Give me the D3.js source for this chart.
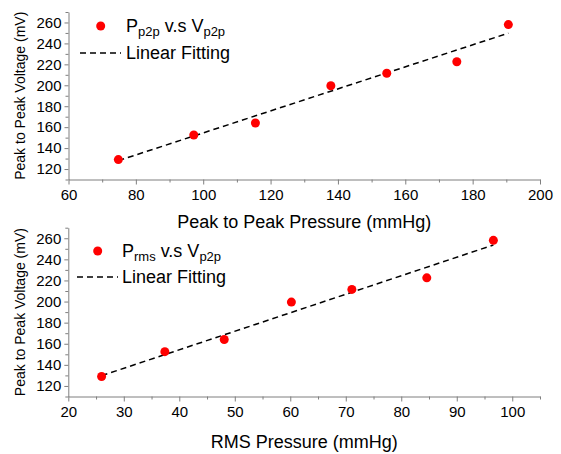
<!DOCTYPE html>
<html>
<head>
<meta charset="utf-8">
<script src="https://cdn.jsdelivr.net/npm/d3@7"></script>
<style>
  body { margin: 0; background: #fff; }
  svg { display: block; font-family: "Liberation Sans", Arial, sans-serif; }
  .axis path, .axis line { stroke: #7f7f7f; }
  .axis text { fill: #000; font-size: 15px; }
</style>
</head>
<body>
<div id="chart"></div>
<script>
// voltages (same for both panels)
const voltage = [129, 152.5, 164, 199.5, 211.5, 222.5, 258];
const p2pPressure = [74.8, 97.2, 115.5, 137.9, 154.5, 175.3, 190.6];
const rmsPressure = [26.0, 37.4, 48.1, 60.2, 71.1, 84.6, 96.6];
// linear fitting end points as drawn
const p2pFit = [[74.8, 128], [190.6, 249.8]];
const rmsFit = [[26.0, 129.7], [96.6, 253.6]];

const yTicks = [120, 140, 160, 180, 200, 220, 240, 260];
const yMinor = [110, 130, 150, 170, 190, 210, 230, 250, 270];
const p2pTicks = [60, 80, 100, 120, 140, 160, 180, 200];
const p2pMinor = [70, 90, 110, 130, 150, 170, 190];
const rmsTicks = [20, 30, 40, 50, 60, 70, 80, 90, 100];
const rmsMinor = [25, 35, 45, 55, 65, 75, 85, 95, 105];

const W = 561, H = 454;
const svg = d3.select("#chart").append("svg")
    .attr("width", W).attr("height", H);

const panels = [
    {
        xs: p2pPressure, fit: p2pFit,
        xDomain: [60, 200], xRange: [68.5, 540],
        yRange: [179.5, 12],
        xTicks: p2pTicks, xMinor: p2pMinor,
        xTitle: "Peak to Peak Pressure (mmHg)", xTitleY: 228,
        legendSub: "p2p", legendMarker: [100.7, 26], legendText: 126, fitLine: [80, 121], row2: 53
    },
    {
        xs: rmsPressure, fit: rmsFit,
        xDomain: [20, 105], xRange: [68.3, 540],
        yRange: [396.5, 227.7],
        xTicks: rmsTicks, xMinor: rmsMinor,
        xTitle: "RMS Pressure (mmHg)", xTitleY: 448,
        legendSub: "rms", legendMarker: [97.7, 251], legendText: 122, fitLine: [77, 118], row2: 277
    }
];

panels.forEach(p => {
    const x = d3.scaleLinear().domain(p.xDomain).range(p.xRange);
    const y = d3.scaleLinear().domain([110, 270]).range(p.yRange);
    const g = svg.append("g");

    // minor ticks first, then main axes
    g.append("g").attr("class", "axis")
        .attr("transform", `translate(0,${p.yRange[0]})`)
        .call(d3.axisBottom(x).tickValues(p.xMinor).tickSize(3).tickFormat(""))
        .select(".domain").remove();
    g.append("g").attr("class", "axis")
        .attr("transform", `translate(${p.xRange[0]},0)`)
        .call(d3.axisLeft(y).tickValues(yMinor).tickSize(3).tickFormat(""))
        .select(".domain").remove();

    g.append("g").attr("class", "axis")
        .attr("transform", `translate(0,${p.yRange[0]})`)
        .call(d3.axisBottom(x).tickValues(p.xTicks).tickSize(5).tickSizeOuter(0).tickPadding(5));
    g.append("g").attr("class", "axis")
        .attr("transform", `translate(${p.xRange[0]},0)`)
        .call(d3.axisLeft(y).tickValues(yTicks).tickSize(4).tickSizeOuter(0).tickPadding(3));

    // axis titles
    g.append("text")
        .attr("x", (p.xRange[0] + p.xRange[1]) / 2)
        .attr("y", p.xTitleY)
        .attr("text-anchor", "middle")
        .style("font-size", "18px")
        .text(p.xTitle);
    g.append("text")
        .attr("transform", `translate(25,${(p.yRange[0] + p.yRange[1]) / 2}) rotate(-90)`)
        .attr("text-anchor", "middle")
        .style("font-size", "14px")
        .text("Peak to Peak Voltage (mV)");

    // fitting line
    g.append("path")
        .datum(p.fit)
        .attr("d", d3.line().x(d => x(d[0])).y(d => y(d[1])))
        .attr("fill", "none")
        .attr("stroke", "#000")
        .attr("stroke-width", 1.5)
        .attr("stroke-dasharray", "6,4");

    // points
    g.append("g").selectAll("circle")
        .data(p.xs.map((v, i) => [v, voltage[i]]))
        .enter().append("circle")
        .attr("cx", d => x(d[0]))
        .attr("cy", d => y(d[1]))
        .attr("r", 4.5)
        .attr("fill", "#ff0000");

    // legend
    const [mx, my] = p.legendMarker;
    g.append("circle").attr("cx", mx).attr("cy", my).attr("r", 4.5).attr("fill", "#ff0000");
    const t = g.append("text")
        .attr("x", p.legendText).attr("y", my + 6)
        .style("font-size", "18px");
    t.append("tspan").text("P");
    t.append("tspan").attr("dy", 4).style("font-size", "13px").text(p.legendSub);
    t.append("tspan").attr("dy", -4).text(" v.s V");
    t.append("tspan").attr("dy", 4).style("font-size", "13px").text("p2p");

    g.append("line")
        .attr("x1", p.fitLine[0]).attr("x2", p.fitLine[1])
        .attr("y1", p.row2).attr("y2", p.row2)
        .attr("stroke", "#000").attr("stroke-width", 1.5)
        .attr("stroke-dasharray", "6,4");
    g.append("text")
        .attr("x", p.legendText).attr("y", p.row2 + 6)
        .style("font-size", "18px")
        .text("Linear Fitting");
});
</script>
</body>
</html>
